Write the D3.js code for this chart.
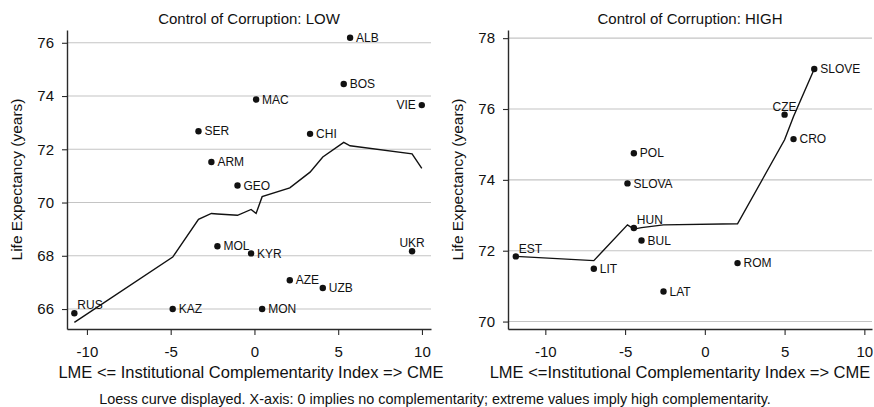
<!DOCTYPE html>
<html>
<head>
<meta charset="utf-8">
<script src="https://cdn.jsdelivr.net/npm/d3@7"></script>
<style>
  body { margin: 0; background: #fff; }
  svg { display: block; font-family: "Liberation Sans", Arial, sans-serif; }
</style>
</head>
<body>
<div id="chart"></div>
<script>
(function(){

    var width = 874;
    var height = 407;

    // low control of corruption
    var lowNames = ["RUS","KAZ","SER","ARM","MOL","GEO","KYR","MAC","MON","AZE","CHI","UZB","BOS","ALB","UKR","VIE"];
    var lowX     = [-10.75, -4.88, -3.34, -2.57, -2.21, -1.01, -0.20, 0.10, 0.46, 2.11, 3.32, 4.08, 5.33, 5.71, 9.41, 9.99];
    var lowY     = [65.84, 66.00, 72.68, 71.52, 68.36, 70.64, 68.09, 73.87, 66.00, 67.08, 72.58, 66.79, 74.45, 76.19, 68.17, 73.66];
    var lowFit   = [65.50, 67.95, 69.37, 69.59, 69.57, 69.52, 69.74, 69.59, 70.22, 70.55, 71.14, 71.71, 72.26, 72.13, 71.83, 71.28];
    var lowTicksY = [66, 68, 70, 72, 74, 76];

    // high control of corruption
    var highNames = ["EST","LIT","SLOVA","POL","HUN","BUL","LAT","ROM","CZE","CRO","SLOVE"];
    var highX     = [-11.85, -6.96, -4.85, -4.45, -4.45, -3.97, -2.59, 2.05, 5.00, 5.56, 6.86];
    var highY     = [71.84, 71.49, 73.90, 74.75, 72.64, 72.29, 70.85, 71.65, 75.84, 75.15, 77.13];
    var highFit   = [71.84, 71.72, 72.73, 72.61, 72.61, 72.65, 72.73, 72.76, 75.13, 75.79, 77.13];
    var highTicksY = [70, 72, 74, 76, 78];

    var ticksX = [-10, -5, 0, 5, 10];

    // where the marker label sits (default: right of the dot)
    var labelPos = { VIE: "left", UKR: "top", CZE: "top", RUS: "topright", HUN: "topright", EST: "topright" };

    var svg = d3.select("#chart").append("svg")
        .attr("width", width)
        .attr("height", height);

    var drawPanel = function(p) {
        var x = d3.scaleLinear().domain(p.xdom).range([p.left, p.right]);
        var y = d3.scaleLinear().domain(p.ydom).range([p.bottom, p.top]);
        var g = svg.append("g");

        // gridlines
        g.selectAll("line.grid")
            .data(p.ticksY)
            .enter()
            .append("line")
            .attr("class", "grid")
            .attr("x1", p.left)
            .attr("x2", p.right)
            .attr("y1", function(d) { return y(d); })
            .attr("y2", function(d) { return y(d); })
            .attr("stroke", "#c4c4c4")
            .attr("stroke-width", 1.1);

        var yAxis = g.append("g")
            .attr("transform", "translate(" + p.left + ",0)")
            .call(d3.axisLeft(y).tickValues(p.ticksY).tickSize(5).tickPadding(8).tickSizeOuter(0));
        var xAxis = g.append("g")
            .attr("transform", "translate(0," + p.bottom + ")")
            .call(d3.axisBottom(x).tickValues(ticksX).tickSize(6).tickPadding(11).tickSizeOuter(0)
                .tickFormat(function(d) { return d < 0 ? "-" + Math.abs(d) : d; }));

        [yAxis, xAxis].forEach(function(a) {
            a.select(".domain").attr("stroke", "#2a2a2a").attr("stroke-width", 1.4);
            a.selectAll(".tick line").attr("stroke", "#2a2a2a").attr("stroke-width", 1.1);
            a.selectAll(".tick text").attr("fill", "#111").style("font-size", "15px")
                .style("font-family", "'Liberation Sans', Arial, sans-serif");
        });

        // loess curve
        var fit = p.xs.map(function(d, i) { return [d, p.fit[i]]; })
            .sort(function(a, b) { return a[0] - b[0]; });
        var line = d3.line()
            .x(function(d) { return x(d[0]); })
            .y(function(d) { return y(d[1]); });
        g.append("path")
            .datum(fit)
            .attr("d", line)
            .attr("fill", "none")
            .attr("stroke", "#111")
            .attr("stroke-width", 1.4);

        // points
        var pts = p.names.map(function(n, i) { return { name: n, x: p.xs[i], y: p.ys[i] }; });
        g.selectAll("circle")
            .data(pts)
            .enter()
            .append("circle")
            .attr("cx", function(d) { return x(d.x); })
            .attr("cy", function(d) { return y(d.y); })
            .attr("r", 3.2)
            .attr("fill", "#111");

        g.selectAll("text.lab")
            .data(pts)
            .enter()
            .append("text")
            .attr("class", "lab")
            .attr("x", function(d) {
                var pos = labelPos[d.name];
                if (pos === "left") return x(d.x) - 6;
                if (pos === "top") return x(d.x);
                if (pos === "topright") return x(d.x) + 3;
                return x(d.x) + 6;
            })
            .attr("y", function(d) {
                var pos = labelPos[d.name];
                if (pos === "top" || pos === "topright") return y(d.y) - 8;
                return y(d.y);
            })
            .attr("dy", "0.35em")
            .attr("text-anchor", function(d) {
                var pos = labelPos[d.name];
                if (pos === "left") return "end";
                if (pos === "top") return "middle";
                return "start";
            })
            .style("font-size", "12px")
            .attr("fill", "#111")
            .text(function(d) { return d.name; });

        // titles
        svg.append("text")
            .attr("x", (p.left + p.right) / 2)
            .attr("y", 24)
            .attr("text-anchor", "middle")
            .style("font-size", "15px")
            .attr("fill", "#111")
            .text(p.title);
        svg.append("text")
            .attr("x", (p.left + p.right) / 2 + p.xtitleShift)
            .attr("y", 378)
            .attr("text-anchor", "middle")
            .style("font-size", "16.5px")
            .attr("fill", "#111")
            .text(p.xtitle);
        svg.append("text")
            .attr("transform", "translate(" + p.ytitleX + "," + (p.top + p.bottom) / 2 + ") rotate(-90)")
            .attr("text-anchor", "middle")
            .attr("dy", "0.35em")
            .style("font-size", "15.5px")
            .attr("fill", "#111")
            .text("Life Expectancy (years)");
    };

    drawPanel({
        names: lowNames, xs: lowX, ys: lowY, fit: lowFit, ticksY: lowTicksY,
        xdom: [-11.19, 10.54], ydom: [65.25, 76.48],
        left: 67, right: 431, top: 30, bottom: 329,
        title: "Control of Corruption: LOW",
        xtitle: "LME <= Institutional Complementarity Index => CME", xtitleShift: 2,
        ytitleX: 17
    });

    drawPanel({
        names: highNames, xs: highX, ys: highY, fit: highFit, ticksY: highTicksY,
        xdom: [-12.34, 10.48], ydom: [69.79, 78.23],
        left: 508, right: 872, top: 30, bottom: 329,
        title: "Control of Corruption: HIGH",
        xtitle: "LME <=Institutional Complementarity Index => CME", xtitleShift: -10,
        ytitleX: 458
    });

    svg.append("text")
        .attr("x", 435)
        .attr("y", 404)
        .attr("text-anchor", "middle")
        .style("font-size", "14.4px")
        .attr("fill", "#111")
        .text("Loess curve displayed. X-axis: 0 implies no complementarity; extreme values imply high complementarity.");

})();
</script>
</body>
</html>
